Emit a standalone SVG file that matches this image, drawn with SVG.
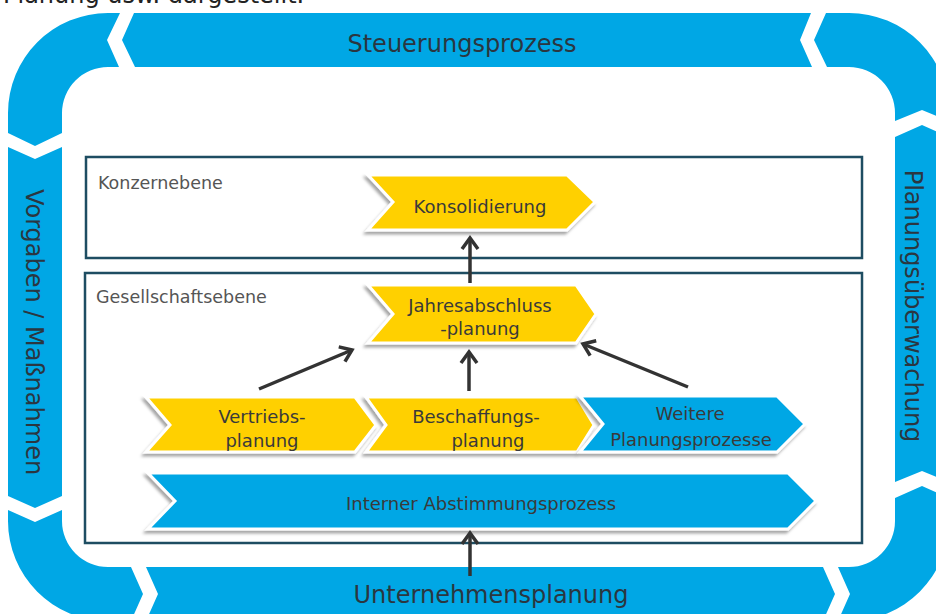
<svg xmlns="http://www.w3.org/2000/svg" width="936" height="614" viewBox="0 0 936 614">
  <defs>
    <style>
      .band { fill: #00A7E5; }
      .bandtxt { font-family: "DejaVu Sans", "Liberation Sans", sans-serif; font-size: 24px; fill: #2b3640; text-anchor: middle; }
      .box { fill: #ffffff; stroke: #1e4d62; stroke-width: 2.5; }
      .boxlbl { font-family: "DejaVu Sans", "Liberation Sans", sans-serif; font-size: 17.5px; fill: #555555; }
      .chev-y { fill: #FFD000; stroke: #ffffff; stroke-width: 3; stroke-linejoin: miter; filter: url(#sh); }
      .chev-b { fill: #00A7E5; stroke: #ffffff; stroke-width: 3; stroke-linejoin: miter; filter: url(#sh); }
      .ctxt { font-family: "DejaVu Sans", "Liberation Sans", sans-serif; font-size: 18px; fill: #3a3a3a; text-anchor: middle; }
      .conn { stroke: #333333; stroke-width: 3.5; fill: none; marker-end: url(#ah); }
      .top { font-family: "DejaVu Sans", "Liberation Sans", sans-serif; font-size: 24px; fill: #222222; }
    </style>
    <filter id="sh" x="-10%" y="-20%" width="120%" height="150%">
      <feDropShadow dx="-2" dy="3" stdDeviation="1.5" flood-color="#000000" flood-opacity="0.35"/>
    </filter>
    <marker id="ah" markerUnits="userSpaceOnUse" markerWidth="20" markerHeight="20" viewBox="-14 -10 18 20" refX="0" refY="0" orient="auto">
      <path d="M -11,-8 L 0,0 L -11,8" fill="none" stroke="#333333" stroke-width="3.5" stroke-linejoin="miter"/>
    </marker>
  </defs>

  <rect x="0" y="0" width="936" height="614" fill="#ffffff"/>

  <text class="top" x="3" y="3">Planung usw. dargestellt.</text>

  <!-- Outer cycle bands -->
  <g id="band-top">
    <path class="band" d="M 8,133 L 8,113 A 100 100 0 0 1 108,13 L 120,13 L 107,40 L 119,67 L 108,67 A 46 46 0 0 0 62,113 L 62,133 L 35,146 Z"/>
    <path class="band" d="M 134,13 L 811,13 L 800,40 L 812,67 L 135,67 L 122,40 Z"/>
    <text class="bandtxt" x="462" y="52">Steuerungsprozess</text>
  </g>
  <g id="band-right">
    <path class="band" d="M 826,13 L 849,13 A 100 100 0 0 1 949,113 L 949,121 L 922,110 L 895,121 L 895,113 A 46 46 0 0 0 849,67 L 827,67 L 814,40 Z"/>
    <path class="band" d="M 895,137 L 922,125 L 949,137 L 949,482 L 922,471 L 895,482 Z"/>
    <text class="bandtxt" transform="translate(905,306) rotate(90)" x="0" y="0">Planungsüberwachung</text>
  </g>
  <g id="band-bottom">
    <path class="band" d="M 838,567 L 849,567 A 46 46 0 0 0 895,521 L 895,498 L 922,486 L 949,498 L 949,521 A 100 100 0 0 1 849,621 L 838,621 L 850,594 Z"/>
    <path class="band" d="M 146,567 L 823,567 L 835,594 L 823,621 L 146,621 L 158,594 Z"/>
    <text class="bandtxt" x="491" y="603">Unternehmensplanung</text>
  </g>
  <g id="band-left">
    <path class="band" d="M 8,510 L 35,522 L 62,510 L 62,521 A 46 46 0 0 0 108,567 L 131,567 L 143,594 L 131,621 L 108,621 A 100 100 0 0 1 8,521 Z"/>
    <path class="band" d="M 8,147 L 35,159 L 62,147 L 62,496 L 35,508 L 8,496 Z"/>
    <text class="bandtxt" transform="translate(26,332) rotate(90)" x="0" y="0">Vorgaben / Maßnahmen</text>
  </g>

  <!-- Level boxes -->
  <g id="konzernebene">
    <rect class="box" x="86" y="157" width="776" height="101"/>
    <text class="boxlbl" x="98" y="189">Konzernebene</text>
  </g>
  <g id="gesellschaftsebene">
    <rect class="box" x="85" y="273" width="777" height="270"/>
    <text class="boxlbl" x="96" y="303">Gesellschaftsebene</text>
  </g>

  <!-- Process chevrons -->
  <g id="konsolidierung">
    <polygon class="chev-y" points="368,175 567,175 595,202 567,230 368,230 393,202"/>
    <text class="ctxt" x="480" y="213">Konsolidierung</text>
  </g>
  <g id="jahresabschluss">
    <polygon class="chev-y" points="368,285 576,285 596,314 576,343 368,343 393,314"/>
    <text class="ctxt" x="480" y="312">Jahresabschluss</text>
    <text class="ctxt" x="480" y="335">-planung</text>
  </g>
  <g id="vertrieb">
    <polygon class="chev-y" points="146,397 355,397 376,425 355,452 146,452 170,425"/>
    <text class="ctxt" x="262" y="423">Vertriebs-</text>
    <text class="ctxt" x="262" y="447">planung</text>
  </g>
  <g id="beschaffung">
    <polygon class="chev-y" points="366,397 577,397 594,425 577,452 366,452 386,425"/>
    <text class="ctxt" x="476" y="423">Beschaffungs-</text>
    <text class="ctxt" x="488" y="447">planung</text>
  </g>
  <g id="weitere">
    <polygon class="chev-b" points="580,396 777,396 805,424 777,452 580,452 603,424"/>
    <text class="ctxt" x="690" y="420">Weitere</text>
    <text class="ctxt" x="691" y="446">Planungsprozesse</text>
  </g>
  <g id="abstimmung">
    <polygon class="chev-b" points="148,473 788,473 816,501 788,529 148,529 175,501"/>
    <text class="ctxt" x="481" y="510">Interner Abstimmungsprozess</text>
  </g>

  <!-- Connectors -->
  <g id="connectors">
    <line class="conn" x1="470" y1="283" x2="470" y2="238"/>
    <line class="conn" x1="469" y1="391" x2="469" y2="352"/>
    <line class="conn" x1="259" y1="389" x2="352" y2="350"/>
    <line class="conn" x1="688" y1="387" x2="583" y2="344"/>
    <line class="conn" x1="470" y1="576" x2="470" y2="533"/>
  </g>
</svg>
